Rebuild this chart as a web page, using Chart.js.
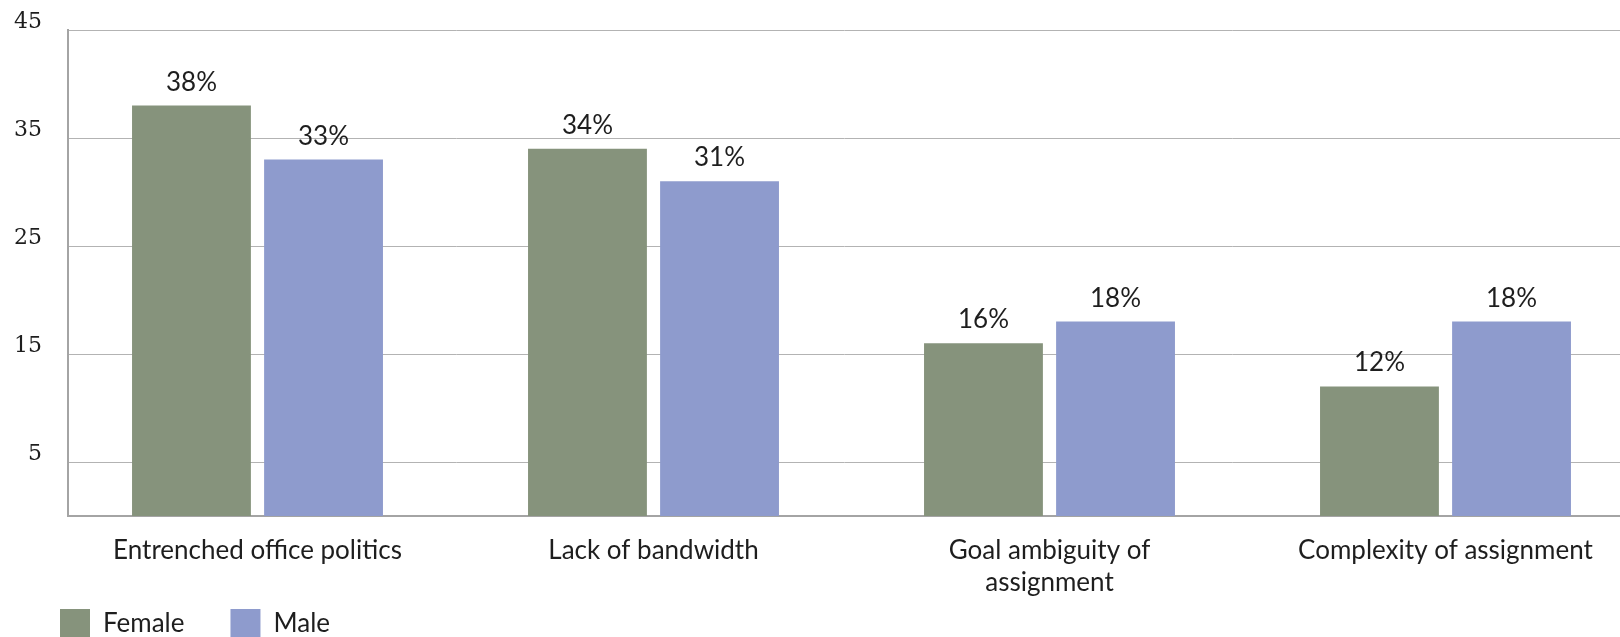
<!DOCTYPE html>
<html>
<head>
<meta charset="utf-8">
<script src="https://cdn.jsdelivr.net/npm/chart.js@4.4.1/dist/chart.umd.min.js"></script>
<style>
  html, body { margin: 0; padding: 0; background: #ffffff; overflow: hidden; }
  #wrap { position: relative; width: 1620px; height: 649px; }
</style>
</head>
<body>
<div id="wrap"><canvas id="chart"></canvas></div>
<script>
// Reasons cited, by gender (percent of respondents)
const categories = [
  'Entrenched office politics',
  'Lack of bandwidth',
  ['Goal ambiguity of', 'assignment'],
  'Complexity of assignment'
];
const seriesNames = ['Female', 'Male'];
const femaleValues = [38, 34, 16, 12];
const maleValues = [33, 31, 18, 18];
const yTickValues = [5, 15, 25, 35, 45];

const SANS = 'Lato, "Open Sans", sans-serif';
const SERIF = '"DejaVu Serif", "Liberation Serif", serif';
const TEXT = '#1e1e1e';

// Writes "NN%" above every bar
const valueLabels = {
  id: 'valueLabels',
  afterDatasetsDraw(chart) {
    const ctx = chart.ctx;
    ctx.save();
    ctx.font = '26px ' + SANS;
    ctx.fillStyle = TEXT;
    ctx.textAlign = 'center';
    ctx.textBaseline = 'alphabetic';
    chart.data.datasets.forEach((ds, di) => {
      const meta = chart.getDatasetMeta(di);
      meta.data.forEach((bar, i) => {
        ctx.fillText(ds.data[i] + '%', bar.x, bar.y - 15);
      });
    });
    ctx.restore();
  }
};

// Category band runs a little wider than the plot frame; legend is indented
const layoutTweaks = {
  id: 'layoutTweaks',
  afterLayout(chart) {
    const xs = chart.scales.x;
    const width = xs.right - xs.left;
    xs._startPixel = xs.left - 8.5;
    xs._endPixel = xs._startPixel + width + 32;
    xs._length = width + 32;
    if (chart.legend) chart.legend.left += 14;
  }
};

new Chart(document.getElementById('chart'), {
  type: 'bar',
  data: {
    labels: categories,
    datasets: [
      { label: seriesNames[0], data: femaleValues, backgroundColor: '#86937c' },
      { label: seriesNames[1], data: maleValues, backgroundColor: '#8e9bcd' }
    ]
  },
  options: {
    responsive: true,
    maintainAspectRatio: false,
    animation: false,
    layout: { padding: { top: 30, left: 0, right: 0, bottom: 0 } },
    datasets: {
      bar: { barPercentage: 0.9, categoryPercentage: 0.667 }
    },
    scales: {
      x: {
        grid: { display: false, drawTicks: false },
        border: { display: true, color: '#a4a4a4', width: 2 },
        ticks: {
          color: TEXT,
          font: { family: SANS, size: 26, lineHeight: 1.23 },
          mirror: true,
          padding: -51,
          autoSkip: false,
          maxRotation: 0,
          minRotation: 0
        },
        afterFit(scale) { scale.height = 47; }
      },
      y: {
        min: 0,
        max: 45,
        grid: {
          color: '#b3b3b3',
          lineWidth: 1,
          drawTicks: true,
          tickLength: 26,
          tickColor: 'rgba(0,0,0,0)'
        },
        border: { display: true, color: '#a4a4a4', width: 2 },
        ticks: {
          color: TEXT,
          font: { family: SERIF, size: 22 },
          padding: 0,
          labelOffset: -8
        },
        afterBuildTicks(scale) {
          scale.ticks = yTickValues.map(v => ({ value: v }));
        },
        afterFit(scale) { scale.width = 68; }
      }
    },
    plugins: {
      legend: {
        display: true,
        position: 'bottom',
        align: 'start',
        labels: {
          boxWidth: 30,
          boxHeight: 30,
          padding: 46,
          color: TEXT,
          font: { family: SANS, size: 26 }
        }
      },
      tooltip: { enabled: false }
    }
  },
  plugins: [valueLabels, layoutTweaks]
});
</script>
</body>
</html>
